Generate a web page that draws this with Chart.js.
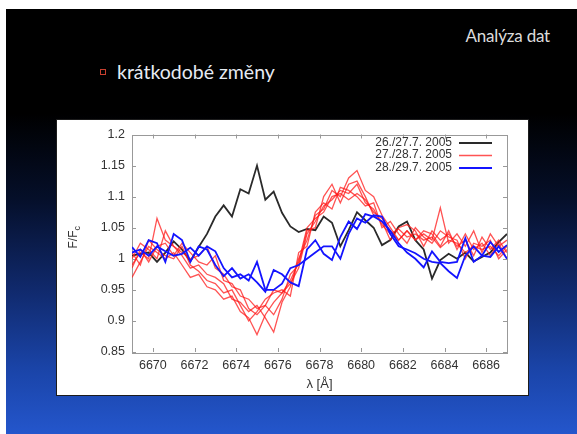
<!DOCTYPE html>
<html>
<head>
<meta charset="utf-8">
<script src="https://cdn.jsdelivr.net/npm/chart.js@4.4.1/dist/chart.umd.min.js"></script>
<style>
  html, body { margin: 0; padding: 0; background: #fff; }
  body { width: 577px; height: 434px; position: relative; overflow: hidden; }
  #slide {
    position: absolute; left: 6px; top: 9px; width: 571px; height: 425px;
    background: linear-gradient(to bottom, #000 0px, #000 105px, #050f2a 190px, #10296c 280px, #1a44a8 360px, #2456cc 425px);
  }
  .title {
    position: absolute; right: 27px; top: 27px;
    font-family: Lato, sans-serif; font-size: 17px; line-height: 17px;
    color: #dcdcdc; white-space: nowrap; letter-spacing: -0.2px;
  }
  .bullet {
    position: absolute; left: 100px; top: 69px; width: 6px; height: 6px;
    box-sizing: border-box; border: 1px solid #c8402f;
  }
  .point {
    position: absolute; left: 117px; top: 62px;
    font-family: Lato, sans-serif; font-size: 19.5px; line-height: 19.5px;
    color: #e6ebf3; white-space: nowrap;
  }
  #plotbox {
    position: absolute; left: 56px; top: 119px; width: 473px; height: 277px;
    box-sizing: border-box; border: 1px solid #1c1c1c; background: #fff;
  }
  #plotbox canvas { display: block; }
</style>
</head>
<body>
<div id="slide"></div>
<div class="title">Analýza dat</div>
<div class="bullet"></div>
<div class="point">krátkodobé změny</div>
<div id="plotbox"><canvas id="spec" width="471" height="275"></canvas></div>

<script>
// Wavelength grid of the spectra (Å)
const wavelength = [
  6669.0, 6669.4, 6669.8, 6670.2, 6670.6, 6671.0, 6671.4, 6671.8, 6672.2, 6672.6,
  6673.0, 6673.4, 6673.8, 6674.2, 6674.6, 6675.0, 6675.4, 6675.8, 6676.2, 6676.6,
  6677.0, 6677.4, 6677.8, 6678.2, 6678.6, 6679.0, 6679.4, 6679.8, 6680.2, 6680.6,
  6681.0, 6681.4, 6681.8, 6682.2, 6682.6, 6683.0, 6683.4, 6683.8, 6684.2, 6684.6,
  6685.0, 6685.4, 6685.8, 6686.2, 6686.6, 6687.0
];

// Night 26./27.7. 2005 – normalised flux
const night1 = [
  1.005, 1.008, 1.010, 0.995, 1.010, 1.028, 1.015, 0.996, 1.019, 1.040,
  1.068, 1.086, 1.068, 1.112, 1.105, 1.150, 1.095, 1.108, 1.074, 1.052,
  1.043, 1.048, 1.046, 1.068, 1.058, 1.020, 1.046, 1.075, 1.062, 1.050,
  1.022, 1.030, 1.052, 1.060, 1.030, 1.015, 0.968, 0.998, 1.008, 1.000,
  1.010, 0.996, 1.003, 1.010, 1.027, 1.040
];

// Night 27./28.7. 2005 – five spectra
const night2a = [
  0.970, 0.995, 1.020, 1.010, 1.000, 1.010, 0.990, 0.970, 0.975, 0.955,
  0.950, 0.935, 0.940, 0.915, 0.905, 0.878, 0.910, 0.930, 0.945, 0.960,
  0.985, 1.040, 1.060, 1.085, 1.095, 1.110, 1.105, 1.120, 1.090, 1.080,
  1.055, 1.040, 1.048, 1.035, 1.040, 1.030, 1.035, 1.018, 1.030, 1.025,
  1.010, 1.020, 1.015, 1.020, 1.005, 1.020
];
const night2b = [
  0.990, 1.010, 1.000, 1.065, 1.030, 1.020, 1.005, 0.985, 0.990, 0.975,
  0.970, 0.960, 0.935, 0.930, 0.915, 0.925, 0.905, 0.882, 0.930, 0.955,
  1.000, 1.030, 1.070, 1.080, 1.110, 1.100, 1.130, 1.142, 1.110, 1.100,
  1.070, 1.050, 1.030, 1.045, 1.030, 1.040, 1.030, 1.082, 1.025, 1.040,
  1.020, 1.045, 1.010, 1.040, 1.020, 1.030
];
const night2c = [
  1.000, 1.025, 1.015, 1.000, 1.045, 1.020, 1.010, 1.000, 1.005, 1.020,
  0.985, 0.975, 0.955, 0.950, 0.920, 0.910, 0.925, 0.910, 0.935, 0.975,
  0.990, 1.045, 1.050, 1.100, 1.120, 1.090, 1.120, 1.125, 1.100, 1.070,
  1.060, 1.030, 1.050, 1.055, 1.045, 1.020, 1.045, 1.030, 1.040, 1.020,
  1.030, 1.005, 1.035, 1.015, 1.030, 1.010
];
const night2d = [
  1.010, 0.990, 1.030, 1.015, 1.005, 1.000, 1.020, 0.990, 0.980, 0.965,
  0.960, 0.945, 0.950, 0.925, 0.900, 0.915, 0.935, 0.945, 0.950, 0.940,
  1.010, 1.020, 1.075, 1.090, 1.080, 1.115, 1.110, 1.100, 1.085, 1.090,
  1.050, 1.060, 1.040, 1.025, 1.050, 1.035, 1.025, 1.045, 1.035, 1.030,
  1.000, 1.025, 1.020, 1.030, 1.000, 1.015
];
const night2e = [
  0.985, 1.015, 0.995, 1.020, 1.025, 1.005, 1.025, 1.010, 0.995, 0.990,
  1.005, 0.965, 0.960, 0.940, 0.935, 0.920, 0.925, 0.950, 0.945, 0.965,
  0.995, 1.050, 1.065, 1.075, 1.100, 1.105, 1.095, 1.105, 1.095, 1.075,
  1.065, 1.045, 1.030, 1.045, 1.030, 1.045, 1.040, 1.020, 1.045, 1.015,
  1.040, 1.015, 1.025, 1.005, 1.025, 1.000
];

// Night 28./29.7. 2005 – two spectra
const night3a = [
  1.019, 1.003, 1.030, 1.025, 0.995, 1.040, 1.030, 0.995, 1.020, 1.015,
  0.990, 0.972, 0.985, 0.968, 0.975, 0.962, 0.947, 0.982, 0.975, 0.962,
  0.956, 1.015, 1.030, 1.008, 0.998, 1.035, 1.060, 1.048, 1.072, 1.068,
  1.060, 1.045, 1.025, 1.010, 1.000, 0.986, 1.012, 0.995, 0.993, 0.995,
  1.033, 0.995, 1.005, 1.027, 1.011, 1.022
];
const night3b = [
  1.010, 1.015, 1.005, 1.020, 1.012, 1.005, 1.008, 1.018, 1.005, 1.020,
  1.012, 0.985, 0.970, 0.975, 0.965, 0.995, 0.950, 0.950, 0.960, 0.985,
  0.990, 1.000, 1.010, 1.020, 1.020, 1.000, 1.040, 1.065, 1.058, 1.070,
  1.068, 1.040, 1.020, 1.015, 1.009, 1.000, 0.995, 0.993, 0.980, 0.969,
  1.005, 1.020, 1.005, 1.003, 1.020, 1.000
];

const nightLabels = ['26./27.7. 2005', '27./28.7. 2005', '28./29.7. 2005'];
const xTicks = [6670, 6672, 6674, 6676, 6678, 6680, 6682, 6684, 6686];
const yTicks = [0.85, 0.9, 0.95, 1.0, 1.05, 1.1, 1.15, 1.2];

const nightStyle = [
  { color: '#2a2a2a', width: 1.8, order: 2 },
  { color: 'rgba(255,25,25,0.75)', width: 1.3, order: 1 },
  { color: '#1414ff', width: 1.8, order: 0 }
];

const groups = [[night1], [night2a, night2b, night2c, night2d, night2e], [night3a, night3b]];

const datasets = [];
groups.forEach((list, n) => {
  list.forEach(vals => {
    datasets.push({
      label: nightLabels[n],
      data: vals.map((v, i) => ({ x: wavelength[i], y: v })),
      borderColor: nightStyle[n].color,
      borderWidth: nightStyle[n].width,
      order: nightStyle[n].order,
      pointRadius: 0,
      tension: 0,
      fill: false
    });
  });
});

const textColor = '#333333';
const frameColor = '#999999';

// Gnuplot-like frame with inward ticks, key and axis titles
const gnuFrame = {
  id: 'gnuFrame',
  beforeDatasetsDraw(chart) {
    const { ctx, chartArea: a, scales } = chart;
    ctx.save();
    ctx.strokeStyle = frameColor;
    ctx.lineWidth = 1;
    ctx.strokeRect(Math.round(a.left) + 0.5, Math.round(a.top) + 0.5,
                   Math.round(a.right - a.left), Math.round(a.bottom - a.top));
    const tl = 4;
    ctx.beginPath();
    scales.x.ticks.forEach(t => {
      const px = Math.round(scales.x.getPixelForValue(t.value)) + 0.5;
      ctx.moveTo(px, a.bottom); ctx.lineTo(px, a.bottom - tl);
      ctx.moveTo(px, a.top); ctx.lineTo(px, a.top + tl);
    });
    scales.y.ticks.forEach(t => {
      const py = Math.round(scales.y.getPixelForValue(t.value)) + 0.5;
      ctx.moveTo(a.left, py); ctx.lineTo(a.left + tl, py);
      ctx.moveTo(a.right, py); ctx.lineTo(a.right - tl, py);
    });
    ctx.stroke();
    ctx.restore();
  },
  afterDatasetsDraw(chart) {
    const { ctx, chartArea: a } = chart;
    ctx.save();
    ctx.fillStyle = textColor;

    // key
    ctx.font = '12px "Liberation Sans", Arial, sans-serif';
    ctx.textAlign = 'right';
    ctx.textBaseline = 'middle';
    const keyX = a.right - 55;
    nightLabels.forEach((lab, n) => {
      const y = a.top + 8 + n * 12.5;
      ctx.fillStyle = textColor;
      ctx.fillText(lab, keyX, y);
      ctx.strokeStyle = nightStyle[n].color;
      ctx.lineWidth = nightStyle[n].width;
      ctx.beginPath();
      ctx.moveTo(keyX + 7, y + 0.5);
      ctx.lineTo(keyX + 40, y + 0.5);
      ctx.stroke();
    });

    // x title
    ctx.fillStyle = textColor;
    ctx.font = '13px "Liberation Sans", Arial, sans-serif';
    ctx.textAlign = 'center';
    ctx.fillText('λ [Å]', (a.left + a.right) / 2, a.bottom + 32);

    // y title F/F_c
    ctx.translate(20, (a.top + a.bottom) / 2 - 6);
    ctx.rotate(-Math.PI / 2);
    ctx.textAlign = 'left';
    ctx.textBaseline = 'alphabetic';
    ctx.font = '12px "Liberation Sans", Arial, sans-serif';
    const w1 = ctx.measureText('F/F').width;
    ctx.font = '9px "Liberation Sans", Arial, sans-serif';
    const w2 = ctx.measureText('c').width;
    const x0 = -(w1 + w2) / 2;
    ctx.font = '12px "Liberation Sans", Arial, sans-serif';
    ctx.fillText('F/F', x0, 0);
    ctx.font = '9px "Liberation Sans", Arial, sans-serif';
    ctx.fillText('c', x0 + w1, 3);
    ctx.restore();
  }
};

const tickFont = { family: '"Liberation Sans", Arial, sans-serif', size: 12.5 };

new Chart(document.getElementById('spec'), {
  type: 'line',
  data: { datasets },
  options: {
    responsive: false,
    animation: false,
    devicePixelRatio: 1,
    events: [],
    layout: { padding: { top: 14, right: 21, left: 0, bottom: 0 } },
    plugins: { legend: { display: false }, tooltip: { enabled: false } },
    scales: {
      x: {
        type: 'linear',
        min: 6669,
        max: 6687,
        afterBuildTicks: s => { s.ticks = xTicks.map(v => ({ value: v })); },
        afterFit: s => { s.height = 43; },
        grid: { display: false, drawTicks: false },
        border: { display: false },
        ticks: {
          autoSkip: false, maxRotation: 0, padding: 6,
          color: textColor, font: tickFont,
          callback: v => String(v)
        }
      },
      y: {
        min: 0.85,
        max: 1.2,
        afterBuildTicks: s => { s.ticks = yTicks.map(v => ({ value: v })); },
        afterFit: s => { s.width = 75; },
        grid: { display: false, drawTicks: false },
        border: { display: false },
        ticks: {
          autoSkip: false, padding: 7,
          color: textColor, font: tickFont,
          callback: v => String(+Number(v).toFixed(2))
        }
      }
    }
  },
  plugins: [gnuFrame]
});
</script>
</body>
</html>
